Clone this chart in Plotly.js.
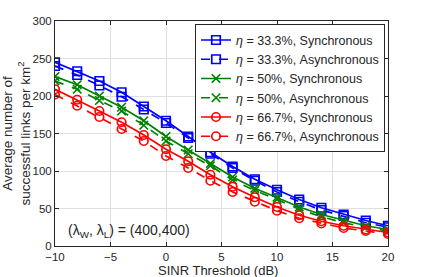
<!DOCTYPE html>
<html><head><meta charset="utf-8">
<script src="https://cdn.plot.ly/plotly-3.0.1.min.js"></script>
<style>html,body{margin:0;padding:0;background:#fff}#chart{width:429px;height:277px}</style>
</head><body><div id="chart"></div>
<script>
const sinr = [-10,-8,-6,-4,-2,0,2,4,6,8,10,12,14,16,18,20];
const blueSync   = [245,233,220,205,186,167,146,125,106,89,75,62,51,42,34,27];
const blueAsync  = [240,228,214,199,182,164,144,123,104,87,72,59,48,40,31,25];
const greenSync  = [226,215,200,185,167,146,128,110,92,77,65,52,42,34,27,22];
const greenAsync = [220,209,194,180,161,140,123,107,88,74,62,49,39,31,25,20];
const redSync    = [209,195,180,165,148,129,113,95,79,65,52,41,33,27,22,18];
const redAsync   = [202,187,172,156,140,120,104,87,72,59,47,37,30,24,20,16];
const names = ['<i>η</i> = 33.3%, Synchronous','<i>η</i> = 33.3%, Asynchronous',
  '<i>η</i> = 50%, Synchronous','<i>η</i> = 50%, Asynchronous',
  '<i>η</i> = 66.7%, Synchronous','<i>η</i> = 66.7%, Asynchronous'];
const series = [blueSync, blueAsync, greenSync, greenAsync, redSync, redAsync];
const colors = ['#0000ff','#0000ff','#008000','#008000','#ff0000','#ff0000'];
const symbols = ['square-open','square-open','x-thin-open','x-thin-open','circle-open','circle-open'];
const dashes = ['solid','dash','solid','dash','solid','dash'];
const traces = series.map((s,i)=>({
  x: sinr, y: s, name: names[i], type:'scatter', mode:'lines+markers',
  line:{color:colors[i], width:1.7, dash:dashes[i]},
  marker:{symbol:symbols[i], size:8.5, color:colors[i], line:{color:colors[i], width:1.7}}
}));
const font = {family:'Liberation Sans, Arial, sans-serif', size:11.5, color:'#262626'};
const layout = {
  width:429, height:277, margin:{l:55,r:41,t:21,b:31},
  paper_bgcolor:'#fff', plot_bgcolor:'#fff', font: font, showlegend:true,
  xaxis:{range:[-10,20], tickvals:[-10,-5,0,5,10,15,20], ticks:'inside', ticklen:4,
    showgrid:true, gridcolor:'#e0e0e0', zeroline:false, showline:true, mirror:'ticks',
    linecolor:'#262626', linewidth:1, tickcolor:'#262626'},
  yaxis:{range:[0,300], tickvals:[0,50,100,150,200,250,300], ticks:'inside', ticklen:4,
    showgrid:true, gridcolor:'#e0e0e0', zeroline:false, showline:true, mirror:'ticks',
    linecolor:'#262626', linewidth:1, tickcolor:'#262626',
    title:{text:'Average number of<br>successful links per km<sup>2</sup>', font:{size:13.5}, standoff:2}},
  legend:{x:0.991, y:0.985, xanchor:'right', yanchor:'top', bgcolor:'#fff',
    bordercolor:'#262626', borderwidth:1, font:{size:12.5}, itemwidth:30, tracegroupgap:0},
  annotations:[
    {x:-9, y:20, xref:'x', yref:'y', xanchor:'left', yanchor:'middle', showarrow:false,
     text:'(λ<sub>W</sub>, λ<sub>L</sub>) = (400,400)', font:{size:14}},
    {x:0.49, y:-0.072, xref:'paper', yref:'paper', xanchor:'center', yanchor:'top', showarrow:false,
     text:'SINR Threshold (dB)', font:{size:13}, borderpad:0}
  ]
};
Plotly.newPlot('chart', traces, layout, {staticPlot:true, displayModeBar:false});
</script></body></html>
